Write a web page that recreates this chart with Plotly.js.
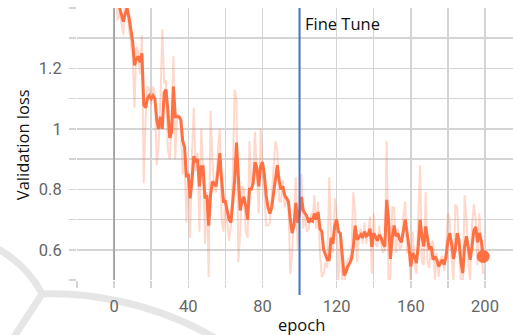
<!DOCTYPE html>
<html>
<head>
<meta charset="utf-8">
<script src="https://cdn.plot.ly/plotly-3.0.1.min.js"></script>
<style>
  html, body { margin: 0; padding: 0; background: #ffffff; }
  #chart { width: 513px; height: 335px; }
</style>
</head>
<body>
<div id="chart"></div>
<script>
// Smoothed validation loss, epochs 0..199
const smoothed = [
  1.50, 1.46, 1.41, 1.40, 1.38, 1.355, 1.38, 1.40, 1.37, 1.33,
  1.29, 1.21, 1.23, 1.24, 1.22, 1.25, 1.08, 1.07, 1.10, 1.11,
  1.10, 1.11, 1.10, 1.03, 1.00, 1.04, 1.00, 1.12, 1.13, 1.06,
  0.97, 0.99, 1.14, 1.04, 1.04, 1.04, 1.03, 0.96, 0.94, 0.84,
  0.85, 0.77, 0.83, 0.91, 0.89, 0.90, 0.81, 0.875, 0.875, 0.77,
  0.78, 0.68, 0.78, 0.825, 0.82, 0.81, 0.86, 0.92, 0.83, 0.76,
  0.76, 0.73, 0.70, 0.69, 0.75, 0.83, 0.955, 0.84, 0.73, 0.76,
  0.775, 0.745, 0.70, 0.80, 0.80, 0.82, 0.89, 0.87, 0.81, 0.875,
  0.89, 0.85, 0.78, 0.74, 0.72, 0.74, 0.79, 0.84, 0.88, 0.83,
  0.80, 0.81, 0.78, 0.77, 0.76, 0.70, 0.655, 0.68, 0.755, 0.69,
  0.72, 0.775, 0.73, 0.72, 0.71, 0.69, 0.70, 0.695, 0.72, 0.70,
  0.725, 0.67, 0.66, 0.60, 0.585, 0.567, 0.567, 0.64, 0.62, 0.68,
  0.70, 0.66, 0.655, 0.59, 0.515, 0.525, 0.545, 0.555, 0.57, 0.61,
  0.68, 0.633, 0.64, 0.65, 0.64, 0.66, 0.645, 0.65, 0.67, 0.61,
  0.655, 0.64, 0.63, 0.65, 0.64, 0.62, 0.61, 0.765, 0.70, 0.57,
  0.64, 0.68, 0.645, 0.655, 0.635, 0.625, 0.66, 0.70, 0.655, 0.61,
  0.545, 0.589, 0.578, 0.556, 0.611, 0.699, 0.644, 0.611, 0.677, 0.633,
  0.60, 0.611, 0.567, 0.578, 0.567, 0.545, 0.556, 0.567, 0.551, 0.578,
  0.63, 0.655, 0.62, 0.57, 0.60, 0.655, 0.63, 0.56, 0.523, 0.61,
  0.645, 0.61, 0.567, 0.61, 0.665, 0.675, 0.625, 0.655, 0.63, 0.578
];
// Raw (unsmoothed) validation loss, epochs 0..199 (faint line)
const raw = [
  1.52, 1.43, 1.36, 1.39, 1.34, 1.31, 1.43, 1.42, 1.33, 1.28,
  1.24, 1.07, 1.27, 1.26, 1.18, 1.31, 0.82, 1.04, 1.14, 1.13,
  1.08, 1.14, 1.12, 0.88, 0.94, 1.10, 1.33, 1.15, 1.16, 0.93,
  0.90, 1.02, 1.24, 0.90, 1.05, 1.04, 1.02, 0.85, 0.91, 0.69,
  0.86, 0.64, 0.92, 1.07, 0.86, 0.92, 0.66, 1.00, 0.87, 0.62,
  0.79, 0.51, 1.06, 0.90, 0.81, 0.79, 0.93, 1.00, 0.70, 0.66,
  0.77, 0.69, 0.63, 0.68, 0.85, 1.13, 1.10, 0.56, 0.66, 0.81,
  0.80, 0.66, 0.64, 0.96, 0.80, 0.85, 0.99, 0.85, 0.72, 1.00,
  0.91, 0.79, 0.68, 0.68, 0.69, 0.77, 0.86, 0.96, 0.93, 0.76,
  0.76, 0.83, 0.74, 0.76, 0.75, 0.52, 0.59, 0.72, 0.84, 0.60,
  0.77, 0.85, 0.67, 0.71, 0.66, 0.67, 0.72, 0.69, 0.78, 0.67,
  0.76, 0.59, 0.51, 0.52, 0.56, 0.54, 0.84, 0.66, 0.59, 0.77,
  0.72, 0.48, 0.65, 0.50, 0.47, 0.54, 0.57, 0.57, 0.59, 0.79,
  0.72, 0.56, 0.65, 0.67, 0.62, 0.69, 0.62, 0.66, 0.71, 0.52,
  0.72, 0.62, 0.61, 0.68, 0.62, 0.59, 0.60, 0.96, 0.48, 0.51,
  0.74, 0.74, 0.59, 0.67, 0.60, 0.61, 0.71, 0.76, 0.59, 0.59,
  0.49, 0.66, 0.56, 0.52, 0.69, 0.88, 0.56, 0.55, 0.79, 0.56,
  0.54, 0.62, 0.63, 0.50, 0.59, 0.51, 0.57, 0.58, 0.53, 0.60,
  0.72, 0.69, 0.57, 0.50, 0.75, 0.74, 0.60, 0.50, 0.47, 0.78,
  0.70, 0.55, 0.50, 0.68, 0.75, 0.70, 0.55, 0.72, 0.60, 0.52
];
const epochs = smoothed.map((_, i) => i);

const xTickVals = [-20, 0, 20, 40, 60, 80, 100, 120, 140, 160, 180, 200];
const xTickText = ['', '0', '', '40', '', '80', '', '120', '', '160', '', '200'];
const yTickVals = [0.5, 0.6, 0.7, 0.8, 0.9, 1.0, 1.1, 1.2, 1.3, 1.4];
const yTickText = ['', '0.6', '', '0.8', '', '1', '', '1.2', '', ''];

const fineTuneEpoch = 100;
const lastIdx = smoothed.length - 1;

const orange = '#ff7043';
const grid = '#d4d4d4';
const wm = '#e6e6e6';

const traces = [
  {
    x: epochs, y: raw, type: 'scatter', mode: 'lines',
    line: { color: 'rgba(255,112,67,0.27)', width: 2 },
    hoverinfo: 'skip', showlegend: false
  },
  {
    x: epochs, y: smoothed, type: 'scatter', mode: 'lines',
    line: { color: orange, width: 3 },
    showlegend: false
  },
  {
    x: [epochs[lastIdx]], y: [smoothed[lastIdx]], type: 'scatter', mode: 'markers',
    marker: { color: orange, size: 13 },
    showlegend: false, cliponaxis: false
  }
];

const layout = {
  width: 513, height: 335,
  margin: { l: 77, r: 0, t: 8, b: 55, pad: 0 },
  paper_bgcolor: '#ffffff', plot_bgcolor: '#ffffff',
  showlegend: false,
  font: { family: 'Roboto, sans-serif', color: '#666666', size: 16.5 },
  xaxis: {
    range: [-20, 215.1],
    tickmode: 'array', tickvals: xTickVals, ticktext: xTickText,
    showgrid: true, gridcolor: grid, gridwidth: 1.5,
    ticks: 'outside', ticklen: 7, tickwidth: 1.5, tickcolor: grid,
    ticklabelstandoff: 4,
    zeroline: false, showline: false,
    tickfont: { family: 'Roboto, sans-serif', size: 16.5, color: '#666666' }
  },
  yaxis: {
    range: [0.5, 1.4],
    tickmode: 'array', tickvals: yTickVals, ticktext: yTickText,
    showgrid: true, gridcolor: grid, gridwidth: 1.5,
    ticks: 'outside', ticklen: 7, tickwidth: 1.5, tickcolor: grid,
    ticklabelstandoff: 4,
    zeroline: false, showline: false,
    tickfont: { family: 'Roboto, sans-serif', size: 16.5, color: '#666666' }
  },
  shapes: [
    // faint watermark arcs
    { type: 'path', xref: 'paper', yref: 'paper', layer: 'below',
      path: 'M -0.1812,0.114 Q -0.1124,0.0515 -0.0803,-0.0515',
      line: { color: wm, width: 7 } },
    { type: 'path', xref: 'paper', yref: 'paper', layer: 'below',
      path: 'M -0.0803,-0.0515 C 0.0069,-0.0441 0.1674,-0.0735 0.3165,-0.2132',
      line: { color: wm, width: 7 } },
    { type: 'path', xref: 'paper', yref: 'paper', layer: 'below',
      path: 'M -0.0803,-0.0515 L -0.1491,-0.2206',
      line: { color: wm, width: 7 } },
    // epoch 0 marker line
    { type: 'line', xref: 'x', yref: 'paper', x0: 0, x1: 0, y0: 0, y1: 1,
      line: { color: '#9a9a9a', width: 1.5 } },
    // fine-tune start line
    { type: 'line', xref: 'x', yref: 'paper', x0: fineTuneEpoch, x1: fineTuneEpoch, y0: -0.055, y1: 1,
      line: { color: '#4472c4', width: 2 } }
  ],
  annotations: [
    { text: 'Fine Tune', xref: 'x', yref: 'paper', x: fineTuneEpoch, y: 1,
      xanchor: 'left', yanchor: 'top', xshift: 3, yshift: -2, showarrow: false,
      font: { family: 'Open Sans, sans-serif', size: 16.5, color: '#111111' } },
    { text: 'epoch', xref: 'x', yref: 'paper', x: 101, y: -0.165,
      xanchor: 'center', yanchor: 'middle', showarrow: false,
      font: { family: 'Open Sans, sans-serif', size: 16.5, color: '#111111' } },
    { text: 'Validation loss', xref: 'paper', yref: 'paper', x: -0.126, y: 0.496,
      xanchor: 'center', yanchor: 'middle', textangle: -90, showarrow: false,
      font: { family: 'Open Sans, sans-serif', size: 16.5, color: '#111111' } }
  ]
};

Plotly.newPlot('chart', traces, layout, { staticPlot: true, displayModeBar: false });
</script>
</body>
</html>
